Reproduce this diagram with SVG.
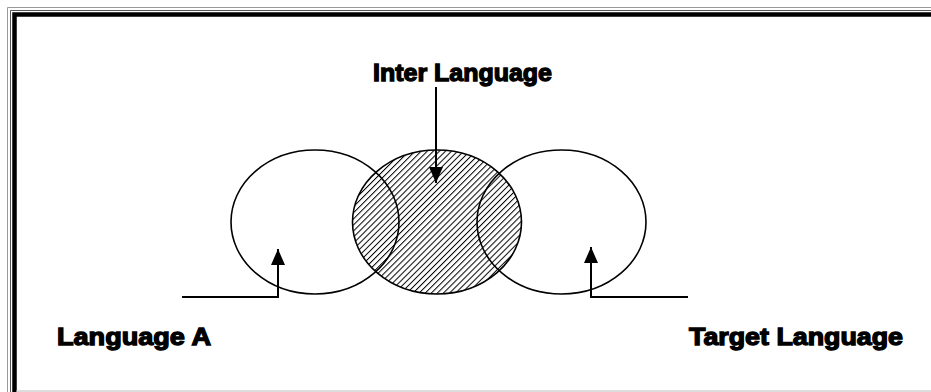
<svg xmlns="http://www.w3.org/2000/svg" width="931" height="392" viewBox="0 0 931 392">
<style>
.lbl{font-family:"Liberation Sans",Arial,sans-serif;font-weight:bold;font-size:24px;fill:#000;stroke:#000;stroke-width:1.3;}
.ell{fill:none;stroke:#000;stroke-width:1.6;}
.hatched{fill:url(#hatch);}
.conn{fill:none;stroke:#000;stroke-width:2;}
</style>
<defs>
<pattern id="hatch" patternUnits="userSpaceOnUse" width="4.3" height="4.3" patternTransform="rotate(45)">
<rect width="4.3" height="4.3" fill="#fff"/>
<line x1="0" y1="0" x2="0" y2="4.3" stroke="#000" stroke-width="2"/>
</pattern>
<marker id="ah" markerWidth="16" markerHeight="14" refX="16" refY="7" orient="auto" markerUnits="userSpaceOnUse" viewBox="0 0 16 14">
<path d="M0,0 L16,7 L0,14 Z" fill="#000"/>
</marker>
</defs>
<rect width="931" height="392" fill="#fff"/>
<g id="frame">
<path d="M7.5,392 V7.5 H931" fill="none" stroke="#999" stroke-width="1"/>
<path d="M10.5,392 V10.5 H931" fill="none" stroke="#555" stroke-width="1"/>
<path d="M14.5,392 V14.5 H931" fill="none" stroke="#000" stroke-width="4.5"/>
<line x1="16" y1="391" x2="931" y2="391" stroke="#bbb" stroke-width="1"/>
</g>
<g id="inter-language">
<ellipse cx="437" cy="222" rx="84.5" ry="72" class="ell hatched"/>
<text class="lbl" x="373" y="81" textLength="179" lengthAdjust="spacingAndGlyphs">Inter Language</text>
</g>
<g id="language-a">
<ellipse cx="315" cy="222" rx="84" ry="72" class="ell"/>
<text class="lbl" x="57" y="345" textLength="154" lengthAdjust="spacingAndGlyphs">Language A</text>
</g>
<g id="target-language">
<ellipse cx="561.5" cy="222" rx="84.5" ry="72" class="ell"/>
<text class="lbl" x="689" y="345" textLength="214" lengthAdjust="spacingAndGlyphs">Target Language</text>
</g>
<g id="connectors">
<path class="conn" d="M436,87 V183" marker-end="url(#ah)"/>
<path class="conn" d="M182,297 H278 V249" marker-end="url(#ah)"/>
<path class="conn" d="M688,297 H591 V247" marker-end="url(#ah)"/>
</g>
</svg>
